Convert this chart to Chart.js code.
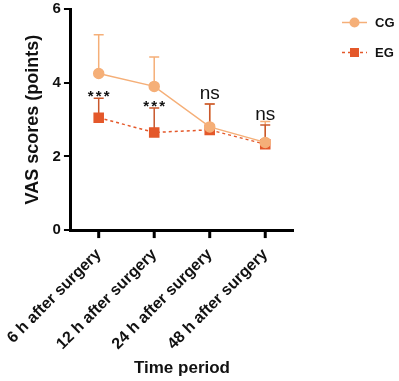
<!DOCTYPE html>
<html>
<head>
<meta charset="utf-8">
<script src="https://cdn.jsdelivr.net/npm/chart.js@4.4.0/dist/chart.umd.min.js"></script>
<style>
  html, body { margin: 0; padding: 0; background: #fff; }
  #wrap { width: 399px; height: 381px; }
</style>
</head>
<body>
<div id="wrap"><canvas id="vasChart" width="399" height="381"></canvas></div>
<script>
// ====== DATOS ======
const periods = ["6 h after surgery", "12 h after surgery", "24 h after surgery", "48 h after surgery"];
const cgMeans = [4.25, 3.9, 2.8, 2.38];
const cgUpper = [5.3, 4.7, 3.42, 2.95];
const egMeans = [3.05, 2.65, 2.72, 2.33];
const egUpper = [3.58, 3.31, 3.42, 2.85];
const signif = ["***", "***", "ns", "ns"];
const yTicks = [0, 2, 4, 6];

const CG_COLOR = "#F5AF78";
const EG_COLOR = "#E4582A";
const EG_BAR = "#C9582C";
const FONT = "'Liberation Sans', Arial, sans-serif";

// ====== BARRAS DE ERROR + ETIQUETAS ======
const errorBars = {
  id: "errorBars",
  beforeDatasetsDraw(chart) {
    const { ctx, scales: { x, y } } = chart;
    const draw = (means, upper, color) => {
      ctx.save();
      ctx.strokeStyle = color;
      ctx.lineWidth = 1.5;
      means.forEach((m, i) => {
        const px = x.getPixelForValue(i);
        const top = y.getPixelForValue(upper[i]);
        ctx.beginPath();
        ctx.moveTo(px, y.getPixelForValue(m));
        ctx.lineTo(px, top);
        ctx.moveTo(px - 5, top);
        ctx.lineTo(px + 5, top);
        ctx.stroke();
      });
      ctx.restore();
    };
    draw(cgMeans, cgUpper, CG_COLOR);
    draw(egMeans, egUpper, EG_BAR);
  },
  afterDatasetsDraw(chart) {
    const { ctx, scales: { x, y } } = chart;
    ctx.save();
    ctx.fillStyle = "#111";
    ctx.textAlign = "center";
    ctx.textBaseline = "bottom";
    signif.forEach((s, i) => {
      const px = x.getPixelForValue(i);
      const py = y.getPixelForValue(egUpper[i]);
      if (s === "ns") {
        ctx.font = "19px " + FONT;
        ctx.fillText(s, px, py - 1);
      } else {
        ctx.font = "bold 15px " + FONT;
        [-8, 0, 8].forEach((dx) => ctx.fillText("*", px + dx, py + 6));
      }
    });
    ctx.restore();
  },
  afterDraw(chart) {
    // marcas del eje X (las del grid quedan transparentes para bajar las etiquetas)
    const { ctx, scales: { x }, chartArea } = chart;
    ctx.save();
    ctx.strokeStyle = "#000";
    ctx.lineWidth = 3;
    periods.forEach((p, i) => {
      const px = x.getPixelForValue(i);
      ctx.beginPath();
      ctx.moveTo(px, chartArea.bottom);
      ctx.lineTo(px, chartArea.bottom + 8);
      ctx.stroke();
    });
    ctx.restore();
  }
};

// ====== LEYENDA ======
const sideLegend = {
  id: "sideLegend",
  afterDraw(chart) {
    const ctx = chart.ctx;
    const items = [
      { label: "CG", color: CG_COLOR, dash: [], shape: "circle", y: 22.5 },
      { label: "EG", color: EG_COLOR, dash: [3, 3], shape: "rect", y: 52.5 }
    ];
    items.forEach((it) => {
      ctx.save();
      ctx.strokeStyle = it.color;
      ctx.lineWidth = 1.5;
      ctx.setLineDash(it.dash);
      ctx.beginPath();
      ctx.moveTo(342, it.y);
      ctx.lineTo(367, it.y);
      ctx.stroke();
      ctx.setLineDash([]);
      ctx.fillStyle = it.color;
      if (it.shape === "circle") {
        ctx.beginPath();
        ctx.arc(354.5, it.y, 5, 0, Math.PI * 2);
        ctx.fill();
      } else {
        ctx.fillRect(350, it.y - 4.5, 9, 9);
      }
      ctx.fillStyle = "#111";
      ctx.font = "bold 13px " + FONT;
      ctx.textBaseline = "middle";
      ctx.fillText(it.label, 375, it.y + 1);
      ctx.restore();
    });
  }
};

// ====== GRÁFICO ======
const ctx = document.getElementById("vasChart").getContext("2d");

const vasChart = new Chart(ctx, {
  type: "line",
  data: {
    labels: periods,
    datasets: [{
      label: "CG",
      data: cgMeans,
      borderColor: CG_COLOR,
      backgroundColor: CG_COLOR,
      borderWidth: 1.5,
      pointStyle: "circle",
      pointRadius: 5,
      tension: 0
    }, {
      label: "EG",
      data: egMeans,
      borderColor: EG_COLOR,
      backgroundColor: EG_COLOR,
      borderWidth: 1.5,
      borderDash: [3, 3],
      pointStyle: "rect",
      pointRadius: 6.4,
      tension: 0
    }]
  },
  options: {
    responsive: false,
    animation: false,
    layout: { padding: { top: 7, right: 106, left: 22, bottom: 2 } },
    plugins: {
      legend: { display: false },
      tooltip: { enabled: false }
    },
    scales: {
      x: {
        offset: true,
        grid: { display: true, drawOnChartArea: false, drawTicks: true, tickLength: 14, color: "rgba(0,0,0,0)", offset: false },
        border: { color: "#000", width: 3 },
        ticks: {
          color: "#111",
          minRotation: 45,
          maxRotation: 45,
          padding: 1,
          font: { family: FONT, size: 16, weight: "bold" }
        },
        title: {
          display: true,
          text: "Time period",
          color: "#111",
          padding: { top: 4, bottom: 0 },
          font: { family: FONT, size: 17, weight: "bold" }
        }
      },
      y: {
        min: 0,
        max: 6,
        afterBuildTicks: (axis) => { axis.ticks = yTicks.map((v) => ({ value: v })); },
        grid: { display: true, drawOnChartArea: false, drawTicks: true, tickLength: 7, color: "#000", lineWidth: 2 },
        border: { color: "#000", width: 3 },
        ticks: {
          color: "#111",
          padding: 3,
          font: { family: FONT, size: 15, weight: "bold", lineHeight: 0.8 }
        },
        title: {
          display: true,
          text: "VAS scores (points)",
          color: "#111",
          padding: { top: 0, bottom: 6 },
          font: { family: FONT, size: 18, weight: "bold" }
        }
      }
    }
  },
  plugins: [errorBars, sideLegend]
});
</script>
</body>
</html>
